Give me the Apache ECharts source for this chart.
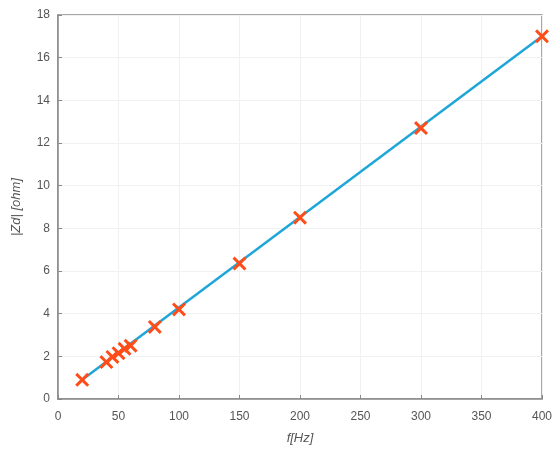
<!DOCTYPE html>
<html>
<head>
<meta charset="utf-8">
<script src="https://cdn.jsdelivr.net/npm/echarts@6/dist/echarts.min.js"></script>
<style>html,body{margin:0;padding:0;background:#fff;}#c{width:552px;height:449px;}</style>
</head>
<body>
<div id="c"></div>
<script>
const freqHz = [20, 40, 45, 50, 55, 60, 80, 100, 150, 200, 300, 400];
const zdOhm = [0.9, 1.73, 1.97, 2.15, 2.35, 2.5, 3.38, 4.2, 6.35, 8.5, 12.7, 17.0];
const fitX = [20, 400];
const fitY = [0.9, 17.0];
const xTicks = [0, 50, 100, 150, 200, 250, 300, 350, 400];
const yTicks = [0, 2, 4, 6, 8, 10, 12, 14, 16, 18];

const chart = echarts.init(document.getElementById('c'));
const xShape = 'path://M3,0 L10,7 L17,0 L20,3 L13,10 L20,17 L17,20 L10,13 L3,20 L0,17 L7,10 L0,3 Z';
const axisCommon = {
  axisLine: {show: true, lineStyle: {color: '#8a8a8a', width: 1.5}},
  axisTick: {show: true, inside: true, length: 4, lineStyle: {color: '#8a8a8a'}},
  splitLine: {show: true, lineStyle: {color: '#f1f1f1', width: 1}},
  axisLabel: {color: '#555', fontFamily: 'Liberation Sans, Arial, sans-serif', fontSize: 12}
};
chart.setOption({
  animation: false,
  backgroundColor: '#fff',
  grid: {left: 58, right: 10, top: 15, bottom: 50, outerBoundsMode: 'none', containLabel: false, show: true, borderColor: '#8a8a8a', borderWidth: 1.5, backgroundColor: 'transparent'},
  xAxis: Object.assign({
    type: 'value', min: 0, max: 400, interval: 50,
    name: 'f[Hz]', nameLocation: 'middle', nameGap: 33,
    nameTextStyle: {color: '#555', fontStyle: 'italic', fontSize: 13, fontFamily: 'Liberation Sans, Arial, sans-serif'}
  }, axisCommon, {axisLabel: Object.assign({}, axisCommon.axisLabel, {margin: 12})}),
  yAxis: Object.assign({
    type: 'value', min: 0, max: 18, interval: 2,
    name: '|Zd| [ohm]', nameLocation: 'middle', nameGap: 35,
    nameTextStyle: {color: '#555', fontStyle: 'italic', fontSize: 13, fontFamily: 'Liberation Sans, Arial, sans-serif'}
  }, axisCommon, {axisLabel: Object.assign({}, axisCommon.axisLabel, {margin: 8})}),
  series: [
    {
      type: 'line',
      data: fitX.map((x, i) => [x, fitY[i]]),
      showSymbol: false,
      lineStyle: {color: '#1fa6d8', width: 2.5},
      z: 2
    },
    {
      type: 'scatter',
      data: freqHz.map((x, i) => [x, zdOhm[i]]),
      symbol: xShape,
      symbolSize: 14,
      itemStyle: {color: '#ff4d1a', opacity: 1},
      z: 3
    }
  ]
});
</script>
</body>
</html>
